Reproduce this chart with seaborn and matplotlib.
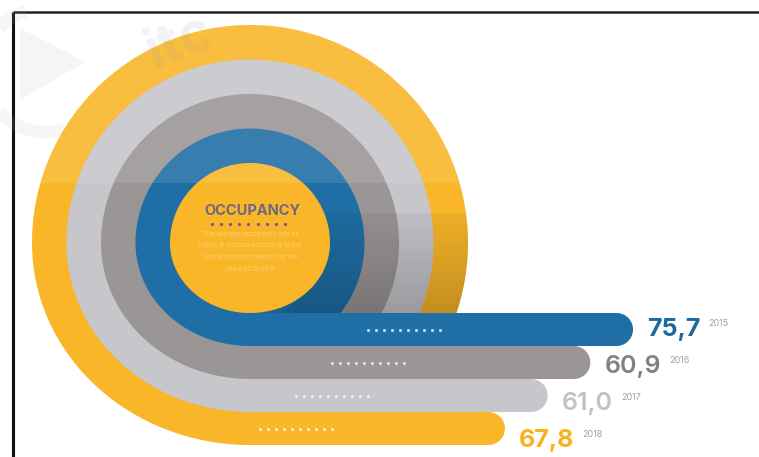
import numpy as np
import matplotlib
matplotlib.use("Agg")
import matplotlib.pyplot as plt
import seaborn as sns
from matplotlib.patches import Polygon, Rectangle

# ---------------- data ----------------
years = ["2015", "2016", "2017", "2018"]
values = [75.7, 60.9, 61.0, 67.8]
value_labels = [f"{v:.1f}".replace(".", ",") for v in values]
ring_colors = ["#1f6fa6", "#9b9696", "#c6c6cb", "#f9b628"]
label_colors = ["#1b69a0", "#858081", "#c2c1c6", "#f6b320"]
center_title = "OCCUPANCY"
center_lines = ["The average occupancy rate of",
                "hotels in Istanbul according to the",
                "annual tourism statistics for the",
                "years 2015-2018"]

# ---------------- style ----------------
sns.set_theme(style="white")
plt.rcParams['font.family'] = ['Inter', 'DejaVu Sans']

fig = plt.figure(figsize=(7.59, 4.57), dpi=100)
ax = fig.add_axes([0, 0, 1, 1])
ax.set_xlim(0, 759)
ax.set_ylim(457, 0)
ax.axis('off')

# layout (pixels)
cx, cy = 250, 243
r0 = 80
ring_w = 34.5
bar_top0 = 313
bar_h = 33
end0 = 633
end_step = 42.7
n = len(values)


def blob(R, top, bottom, x_end):
    cut = bar_top0
    t0 = np.arcsin((cut - cy) / R)
    t = np.linspace(-t0, np.pi, 300)
    upper = np.column_stack([cx + R * np.cos(t), cy - R * np.sin(t)])
    b = bottom - cy
    t2 = np.linspace(np.pi, 1.5 * np.pi, 150)
    lower = np.column_stack([cx + R * np.cos(t2), cy - b * np.sin(t2)])
    r = (bottom - top) / 2
    xc, yc = x_end - r, (top + bottom) / 2
    phi = np.linspace(np.pi / 2, -np.pi / 2, 60)
    cap = np.column_stack([xc + r * np.cos(phi), yc + r * np.sin(phi)])
    x_cut = cx + R * np.cos(t0)
    tail = np.array([[x_cut, top]])
    return np.vstack([upper, lower, cap, tail])


patches = {}
for k in reversed(range(n)):
    R = r0 + ring_w * (k + 1)
    top = bar_top0 + bar_h * k
    bottom = top + bar_h
    x_end = end0 - end_step * k
    p = Polygon(blob(R, top, bottom, x_end), closed=True,
                facecolor=ring_colors[k], edgecolor='none', zorder=2 + (n - k))
    ax.add_patch(p)
    patches[k] = p
    # dotted line on the bar
    xs = (368 - 36 * k) + 8 * np.arange(10)
    ys = np.full_like(xs, (top + bottom) / 2, dtype=float)
    ax.plot(xs, ys, ls='none', marker='o', ms=2.2, color='white', alpha=0.75,
            mec='none', zorder=8)

outer = patches[n - 1]

# soft shadow on the lower-right part of the rings
H, W = 120, 240
yy = np.linspace(0, 1, H)[:, None]
xx = np.linspace(0, 1, W)[None, :]
alpha = (0.05 + 0.17 * yy ** 1.1) * np.clip(xx * 5, 0, 1)
img = np.zeros((H, W, 4))
img[..., 3] = alpha
shadow = ax.imshow(img, extent=[cx, cx + W, bar_top0, 213],
                   origin='upper', aspect='auto', zorder=6.5, interpolation='bilinear')
shadow.set_clip_path(outer)

# inner disc
t = np.linspace(0, np.pi, 200)
up = np.column_stack([cx + r0 * np.cos(t), cy - r0 * np.sin(t)])
t2 = np.linspace(np.pi, 2 * np.pi, 200)
lo = np.column_stack([cx + r0 * np.cos(t2), cy - (bar_top0 - cy) * np.sin(t2)])
ax.add_patch(Polygon(np.vstack([up, lo]), closed=True, facecolor="#f9b628",
                     edgecolor='none', zorder=7))

# light band on top part
hl = Rectangle((0, 0), 500, 183, facecolor='white', alpha=0.11, edgecolor='none', zorder=7.5)
ax.add_patch(hl)
hl.set_clip_path(outer)

# centre texts
ax.text(cx + 2, 211, center_title, ha='center', va='center', fontsize=10.5,
        fontweight='bold', color='#6b6880', zorder=9)
dx = 212 + 9.1 * np.arange(9)
ax.plot(dx, np.full_like(dx, 223.5), ls='none', marker='o', ms=2.3, color='#8a4c96',
        mec='none', zorder=9)
for i, line in enumerate(center_lines):
    ax.text(cx, 234 + 11.5 * i, line, ha='center', va='center', fontsize=4.6,
            color='#fcd07a', zorder=9)

# value and year labels
for k in range(n):
    x_end = end0 - end_step * k
    base = 336 + 37 * k
    weight = 'bold' if k in (0, 3) else 'semibold'
    tx = ax.text(x_end + 14, base, value_labels[k], ha='left', va='baseline',
                 fontsize=18, fontweight=weight, color=label_colors[k], zorder=9)
    ax.annotate(years[k], xy=(1, 0.95), xycoords=tx, xytext=(6, 0),
                textcoords='offset points', ha='left', va='top', fontsize=6.5,
                color='#a3a2a6', zorder=9)

# frame lines
ax.plot([13, 759], [11.5, 11.5], color='#222222', lw=1.8, zorder=12, solid_capstyle='butt')
ax.plot([13, 13], [11.5, 457], color='#111111', lw=2.2, zorder=12, solid_capstyle='butt')

# faint watermark
ax.text(180, 42, "itc", ha='center', va='center', fontsize=40, fontweight='bold',
        rotation=22, color='#9a9a9a', alpha=0.13, zorder=13)
tri = Polygon([[20, 28], [85, 62], [20, 100]], closed=True, facecolor='#b0b0b0',
              alpha=0.12, edgecolor='none', zorder=13)
ax.add_patch(tri)
th = np.linspace(0.6 * np.pi, 1.6 * np.pi, 100)
ax.plot(45 + 62 * np.cos(th), 70 - 62 * np.sin(th), color='#b0b0b0', lw=9, alpha=0.11,
        zorder=13, solid_capstyle='butt')

ax.set_xlim(0, 759)
ax.set_ylim(457, 0)
fig.savefig("out.png", dpi=100)
